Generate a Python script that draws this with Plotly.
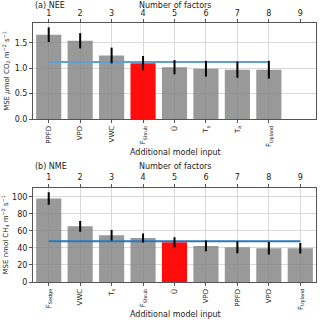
import plotly.graph_objects as go

# ---------------- data ----------------
nee_labels = ["PPFD", "VPD", "VWC", "F<sub>Shrub</sub>", "Ū", "T<sub>s</sub>", "T<sub>a</sub>", "F<sub>Upland</sub>"]
nee_mse = [1.66, 1.54, 1.25, 1.10, 1.02, 0.99, 0.97, 0.97]
nee_err = [0.145, 0.15, 0.155, 0.14, 0.14, 0.155, 0.16, 0.175]
nee_baseline = [1.124] * 8
nee_colors = ["grey", "grey", "grey", "red", "grey", "grey", "grey", "grey"]

nme_labels = ["F<sub>Sedge</sub>", "VWC", "T<sub>s</sub>", "F<sub>Shrub</sub>", "Ū", "VPD", "PPFD", "VPD", "F<sub>Upland</sub>"]
nme_mse = [98.0, 65.4, 54.9, 51.8, 46.7, 42.4, 40.9, 39.7, 39.7]
nme_err = [7.3, 6.3, 6.2, 5.3, 5.9, 6.2, 7.0, 7.4, 6.2]
nme_baseline = [47.9] * 9
nme_colors = ["grey", "grey", "grey", "grey", "red", "grey", "grey", "grey", "grey"]

factor_ticks = ["1", "2", "3", "4", "5", "6", "7", "8", "9"]

# ---------------- figure ----------------
W, H = 320, 323
ml, mr, mt, mb = 33, 4, 23, 41
FONT = "DejaVu Sans"
GRID = "#d9d9d9"
FRAME = "#555555"

color_map = {"grey": "rgba(128,128,128,0.8)", "red": "rgba(255,0,0,0.95)"}

fig = go.Figure()

def add_panel(labels, mse, err, base, colors, xa, ya, line_color):
    xs = list(range(len(mse)))
    fig.add_trace(go.Bar(x=xs, y=mse, width=0.8,
                         marker=dict(color=[color_map[c] for c in colors], line=dict(width=0)),
                         xaxis=xa, yaxis=ya, showlegend=False))
    bx = list(range(len(base)))
    fig.add_trace(go.Scatter(x=bx, y=base, mode="lines",
                             line=dict(color=line_color, width=2),
                             xaxis=xa, yaxis=ya, showlegend=False))
    fig.add_trace(go.Scatter(x=xs, y=mse, mode="markers",
                             marker=dict(size=1, color="rgba(0,0,0,0)"),
                             error_y=dict(type="data", array=err, visible=True,
                                          color="black", thickness=2, width=0),
                             xaxis=xa, yaxis=ya, showlegend=False))

add_panel(nee_labels, nee_mse, nee_err, nee_baseline, nee_colors, "x", "y", "#5e9fd6")
add_panel(nme_labels, nme_mse, nme_err, nme_baseline, nme_colors, "x2", "y2", "#2a78b8")

ph = H - mt - mb
def py(pix):
    return (H - mb - pix) / ph

pw = W - ml - mr
def px(pix):
    return (pix - ml) / pw

top_dom = [py(119), 1.0]
bot_dom = [0.0, py(187.5)]

def xaxis_common(labels):
    return dict(range=[-0.5, 8.5], tickmode="array", tickvals=list(range(len(labels))),
                ticktext=labels, tickangle=-90, tickfont=dict(family=FONT, size=7, color="#222"),
                showgrid=True, gridcolor=GRID, gridwidth=1, showline=True, linecolor=FRAME,
                linewidth=1, mirror=False, ticks="outside", ticklen=3, tickcolor=FRAME,
                zeroline=False, automargin=False)

def top_axis(over, anchor):
    return dict(overlaying=over, anchor=anchor, side="top", range=[-0.5, 8.5],
                tickmode="array", tickvals=list(range(9)), ticktext=factor_ticks,
                tickfont=dict(family=FONT, size=8, color="#222"), showgrid=False,
                showline=True, linecolor=FRAME, linewidth=1, ticks="outside", ticklen=3,
                tickcolor=FRAME, zeroline=False, automargin=False)

def yaxis_common(rng, dtick, dom, title, fmt):
    return dict(domain=dom, range=rng, dtick=dtick, tick0=0, tickformat=fmt, showgrid=True,
                gridcolor=GRID, showline=True, linecolor=FRAME, linewidth=1, mirror=True,
                ticks="outside", ticklen=3, tickcolor=FRAME, zeroline=False, automargin=False,
                tickfont=dict(family=FONT, size=8, color="#222"),
                title=dict(text=title, font=dict(family=FONT, size=7, color="#222"), standoff=4))

fig.update_layout(
    width=W, height=H,
    margin=dict(l=ml, r=mr, t=mt, b=mb),
    paper_bgcolor="white", plot_bgcolor="white",
    bargap=0.2,
    xaxis=dict(anchor="y", domain=[0, 1], **xaxis_common(nee_labels)),
    xaxis2=dict(anchor="y2", domain=[0, 1], **xaxis_common(nme_labels)),
    xaxis3=top_axis("x", "y"),
    xaxis4=top_axis("x2", "y2"),
    yaxis=yaxis_common([0, 1.89], 0.5, top_dom,
                       "MSE <i>μ</i>mol CO<sub>2</sub> m<sup>−2</sup> s<sup>−1</sup>", ".1f"),
    yaxis2=yaxis_common([0, 111], 20, bot_dom,
                        "MSE nmol CH<sub>4</sub> m<sup>−2</sup> s<sup>−1</sup>", "d"),
)
# dummy traces to activate top axes
fig.add_trace(go.Scatter(x=[0], y=[0], xaxis="x3", yaxis="y", mode="markers",
                         marker=dict(size=1, color="rgba(0,0,0,0)"), showlegend=False, hoverinfo="skip"))
fig.add_trace(go.Scatter(x=[0], y=[0], xaxis="x4", yaxis="y2", mode="markers",
                         marker=dict(size=1, color="rgba(0,0,0,0)"), showlegend=False, hoverinfo="skip"))

ann_font = dict(family=FONT, size=8, color="#222")
annos = [
    dict(text="(a) NEE", x=px(32.5), y=py(5.5), xanchor="left", yanchor="middle"),
    dict(text="Number of factors", x=px(175), y=py(5.5), xanchor="center", yanchor="middle"),
    dict(text="Additional model input", x=px(175), y=py(152), xanchor="center", yanchor="middle"),
    dict(text="(b) NME", x=px(32.5), y=py(166), xanchor="left", yanchor="middle"),
    dict(text="Number of factors", x=px(175), y=py(166), xanchor="center", yanchor="middle"),
    dict(text="Additional model input", x=px(175), y=py(314), xanchor="center", yanchor="middle"),
]
for a in annos:
    fig.add_annotation(xref="paper", yref="paper", showarrow=False, font=ann_font, **a)

fig.write_html("out.html", config={"displayModeBar": False},
               post_script="document.body.style.margin='0px';document.body.style.padding='0px';")
